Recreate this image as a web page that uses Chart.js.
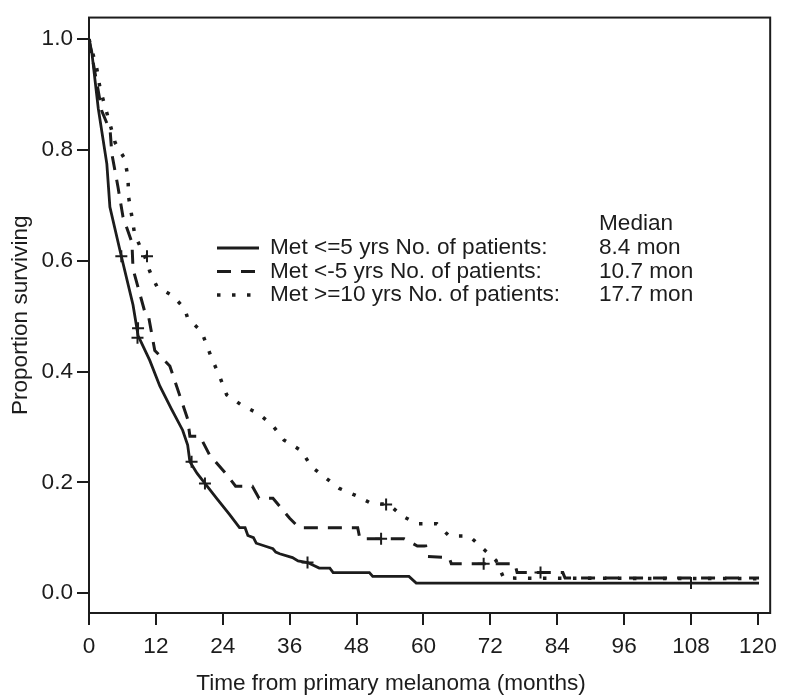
<!DOCTYPE html>
<html>
<head>
<meta charset="utf-8">
<script src="https://cdn.jsdelivr.net/npm/chart.js@4.4.0/dist/chart.umd.min.js"></script>
<style>
  html, body { margin: 0; padding: 0; background: #fff; }
  canvas { display: block; }
</style>
</head>
<body>
<canvas id="kmChart" width="785" height="699"></canvas>
<script>
// Kaplan-Meier curves (months, proportion surviving)
const tempoLe5 = [0, 0.5, 1.66, 3.2, 3.75, 5.8, 7.9, 8.8, 10.9, 12.7, 14.8, 16.8, 17.7, 18.1, 19.4, 20.8, 22.9, 25.2, 27.0,
    28.0, 28.5, 29.5, 30.0, 31.8, 33.0, 33.5, 34.2, 36.5, 37.5, 39.2, 41.3, 43.2, 43.8, 50.3, 50.9, 57.4, 58.7, 120.2];
const survLe5 = [1.0, 0.977, 0.875, 0.775, 0.697, 0.608, 0.52, 0.465, 0.42, 0.374, 0.332, 0.294, 0.267, 0.237, 0.216, 0.198, 0.171, 0.142, 0.118,
    0.118, 0.104, 0.1, 0.09, 0.084, 0.08, 0.074, 0.071, 0.064, 0.058, 0.055, 0.045, 0.045, 0.037, 0.037, 0.030, 0.030, 0.018, 0.018];

const tempoLt5 = [0, 1.6, 2.3, 3.8, 4.1, 5.2, 6.1, 7.7, 7.9, 10.0, 10.6, 11.8, 14.5, 16.3, 17.7, 18.1, 19.9, 21.6, 24.7,
    26.3, 29.3, 30.5, 33.0, 36.0, 37.7, 48.2, 48.6, 56.5, 58.9, 60.4, 60.7, 64.6, 65.0, 76.4, 76.8, 85.0, 85.4, 120.2];
const survLt5 = [1.0, 0.91, 0.87, 0.834, 0.793, 0.733, 0.679, 0.633, 0.585, 0.508, 0.504, 0.438, 0.41, 0.356, 0.314, 0.283, 0.283, 0.25, 0.214,
    0.193, 0.193, 0.171, 0.171, 0.135, 0.118, 0.118, 0.098, 0.098, 0.085, 0.085, 0.066, 0.064, 0.053, 0.053, 0.037, 0.037, 0.027, 0.027];

const tempoGe10 = [0, 1.4, 2.0, 4.7, 6.4, 7.0, 7.1, 7.7, 8.2, 10.0, 10.9, 12.2, 15.0, 17.2, 17.7, 20.2, 22.0, 23.4, 24.7,
    27.4, 30.4, 32.9, 35.0, 38.1, 39.9, 42.2, 44.9, 47.9, 50.6, 53.8, 56.2, 58.9, 62.4, 64.6, 68.2, 70.5, 73.0, 74.4, 120.2];
const survGe10 = [1.0, 0.947, 0.91, 0.813, 0.784, 0.75, 0.715, 0.679, 0.647, 0.608, 0.581, 0.553, 0.537, 0.513, 0.496, 0.472, 0.424, 0.392, 0.358,
    0.339, 0.324, 0.303, 0.276, 0.257, 0.228, 0.21, 0.189, 0.176, 0.162, 0.16, 0.139, 0.125, 0.125, 0.103, 0.103, 0.082, 0.059, 0.027, 0.026];

// censored observations (+)
const censLe5T = [5.8, 8.8, 8.7, 18.4, 20.8, 39.2, 108.0];
const censLe5S = [0.608, 0.478, 0.461, 0.237, 0.198, 0.055, 0.018];
const censLt5T = [52.4, 70.8, 81.0];
const censLt5S = [0.098, 0.053, 0.037];
const censGe10T = [10.4, 53.3];
const censGe10S = [0.608, 0.160];

const seriesLabels = ['Met <=5 yrs No. of patients:', 'Met <-5 yrs No. of patients:', 'Met >=10 yrs No. of patients:'];
const medianTitle = 'Median';
const medianLabels = ['8.4 mon', '10.7 mon', '17.7 mon'];
const xTicks = [0, 12, 24, 36, 48, 60, 72, 84, 96, 108, 120];
const yTicks = [0, 0.2, 0.4, 0.6, 0.8, 1.0];
const xTitle = 'Time from primary melanoma (months)';
const yTitle = 'Proportion surviving';

const FONT = "'Liberation Sans', Arial, sans-serif";
const FONT_SIZE = 22.6;
const INK = '#1c1c1c';

const lineStyles = [
    { borderDash: [], borderWidth: 2.8 },
    { borderDash: [14, 10], borderWidth: 3 },
    { borderDash: [3.5, 11.5], borderWidth: 3.5 }
];

function pontos(xs, ys) {
    return xs.map((x, i) => ({ x: x, y: ys[i] }));
}

function curva(xs, ys, i) {
    return {
        type: 'line',
        data: pontos(xs, ys),
        borderColor: INK,
        borderWidth: lineStyles[i].borderWidth,
        borderDash: lineStyles[i].borderDash,
        tension: 0,
        pointRadius: 0,
        fill: false
    };
}

function censuras(xs, ys) {
    return {
        type: 'scatter',
        data: pontos(xs, ys),
        showLine: false,
        pointStyle: 'cross',
        pointRadius: 6,
        borderWidth: 2,
        borderColor: INK
    };
}

// frame around the plot area
const boxPlugin = {
    id: 'box',
    afterDraw(chart) {
        const { ctx, chartArea: a } = chart;
        ctx.save();
        ctx.strokeStyle = INK;
        ctx.lineWidth = 2;
        ctx.strokeRect(a.left, a.top, a.right - a.left, a.bottom - a.top);
        ctx.restore();
    }
};

// legend with median column, plus x title (offset left like the original)
const legendPlugin = {
    id: 'kmLegend',
    afterDraw(chart) {
        const ctx = chart.ctx;
        ctx.save();
        ctx.font = `${FONT_SIZE}px ${FONT}`;
        ctx.fillStyle = INK;
        ctx.strokeStyle = INK;
        ctx.textBaseline = 'middle';
        ctx.fillText(medianTitle, 599, 224);
        seriesLabels.forEach((lab, i) => {
            const y = 248 + i * 23.5;
            ctx.lineWidth = lineStyles[i].borderWidth;
            ctx.setLineDash(lineStyles[i].borderDash);
            ctx.beginPath();
            ctx.moveTo(217, y);
            ctx.lineTo(259, y);
            ctx.stroke();
            ctx.setLineDash([]);
            ctx.fillText(lab, 270, y);
            ctx.fillText(medianLabels[i], 599, y);
        });
        ctx.textAlign = 'center';
        ctx.textBaseline = 'alphabetic';
        ctx.fillText(xTitle, 391, 690);
        ctx.restore();
    }
};

new Chart(document.getElementById('kmChart'), {
    type: 'line',
    data: {
        datasets: [
            curva(tempoLe5, survLe5, 0),
            curva(tempoLt5, survLt5, 1),
            curva(tempoGe10, survGe10, 2),
            censuras(censLe5T, censLe5S),
            censuras(censLt5T, censLt5S),
            censuras(censGe10T, censGe10S)
        ]
    },
    options: {
        responsive: false,
        animation: false,
        layout: { padding: { left: 0, right: 13, top: 10, bottom: 0 } },
        plugins: {
            legend: { display: false },
            tooltip: { enabled: false }
        },
        scales: {
            x: {
                type: 'linear',
                min: 0,
                max: 122.2,
                afterBuildTicks: s => { s.ticks = xTicks.map(v => ({ value: v })); },
                afterFit: s => { s.height = 86; },
                grid: { drawOnChartArea: false, tickLength: 12, color: INK, lineWidth: 2 },
                border: { display: true, color: INK, width: 2 },
                ticks: { color: INK, font: { family: FONT, size: FONT_SIZE }, padding: 8, maxRotation: 0 }
            },
            y: {
                type: 'linear',
                min: -0.036,
                max: 1.039,
                afterBuildTicks: s => { s.ticks = yTicks.map(v => ({ value: v })); },
                afterFit: s => { s.width = 89; },
                grid: { drawOnChartArea: false, tickLength: 12, color: INK, lineWidth: 2 },
                border: { display: true, color: INK, width: 2 },
                ticks: {
                    color: INK,
                    font: { family: FONT, size: FONT_SIZE },
                    padding: 4,
                    callback: v => v.toFixed(1)
                },
                title: {
                    display: true,
                    text: yTitle,
                    color: INK,
                    font: { family: FONT, size: FONT_SIZE },
                    padding: { top: 7, bottom: 0 }
                }
            }
        }
    },
    plugins: [boxPlugin, legendPlugin]
});
</script>
</body>
</html>
